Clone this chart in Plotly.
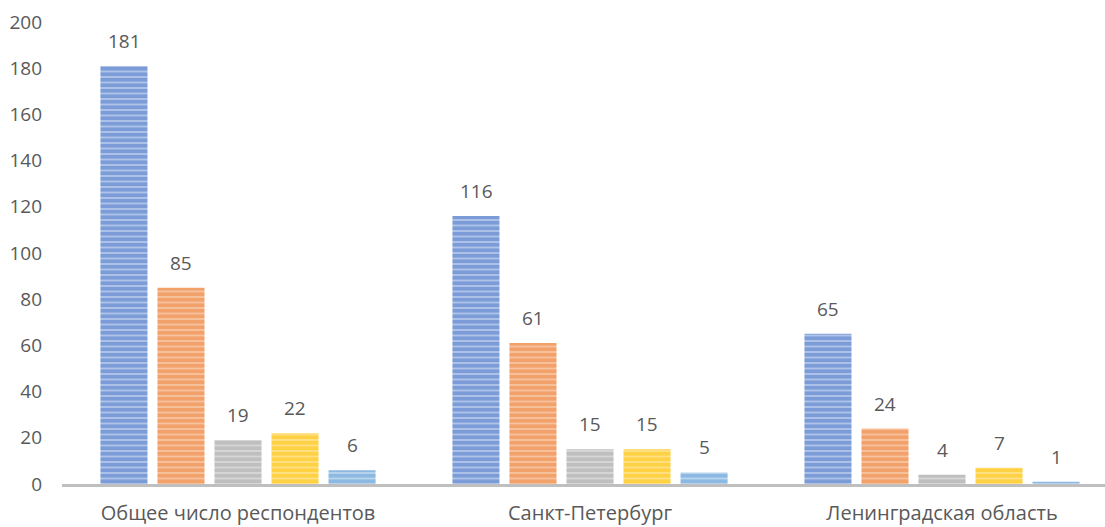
import plotly.graph_objects as go

categories = ["Общее число респондентов", "Санкт-Петербург", "Ленинградская область"]
series_names = ["Серия 1", "Серия 2", "Серия 3", "Серия 4", "Серия 5"]
s1 = [181, 116, 65]
s2 = [85, 61, 24]
s3 = [19, 15, 4]
s4 = [22, 15, 7]
s5 = [6, 5, 1]
series_values = [s1, s2, s3, s4, s5]
y_ticks = [0, 20, 40, 60, 80, 100, 120, 140, 160, 180, 200]

fg_colors = ["#4472C4", "#ED7D31", "#A5A5A5", "#FFC000", "#5B9BD5"]
bg_colors = ["#B4C6EA", "#F7C4A2", "#D8D8D8", "#FFE28A", "#BDD6EE"]

fig = go.Figure()
for i, (name, vals) in enumerate(zip(series_names, series_values)):
    fig.add_trace(go.Bar(
        x=categories, y=vals, name=name,
        marker=dict(
            color=bg_colors[i],
            line=dict(width=0),
            pattern=dict(shape="-", fgcolor=fg_colors[i], bgcolor=bg_colors[i],
                         size=5.5, solidity=0.7, fillmode="overlay"),
        ),
        hoverinfo="x+y",
    ))

annotations = []
pitch = 57
for i, vals in enumerate(series_values):
    for c, v in zip(categories, vals):
        annotations.append(dict(
            x=c, y=v, xref="x", yref="y", text=str(v), showarrow=False,
            xshift=(i - 2) * pitch, yshift=25, yanchor="middle",
            font=dict(family="Open Sans", size=19, color="#595959"),
        ))

fig.update_layout(
    width=1105, height=527,
    margin=dict(l=62, r=0, t=22, b=43),
    paper_bgcolor="white", plot_bgcolor="white",
    barmode="group", bargap=0.19, bargroupgap=0.175,
    showlegend=False,
    annotations=annotations,
    font=dict(family="Open Sans", color="#595959"),
)
fig.update_xaxes(
    range=[-0.5, 2.463], showgrid=False, zeroline=False,
    showline=True, linecolor="#BFBFBF", linewidth=3,
    ticks="", tickfont=dict(size=20, color="#595959"),
    ticklabelstandoff=9, automargin=False,
)
fig.update_yaxes(
    range=[0, 200], tickvals=y_ticks, showgrid=False, zeroline=False,
    showline=False, ticks="", tickfont=dict(size=19, color="#595959"),
    ticklabelstandoff=19, automargin=False,
)

fig.write_html("out.html", config={"displayModeBar": False},
               post_script="document.body.style.margin='0';document.body.style.overflow='hidden';")
